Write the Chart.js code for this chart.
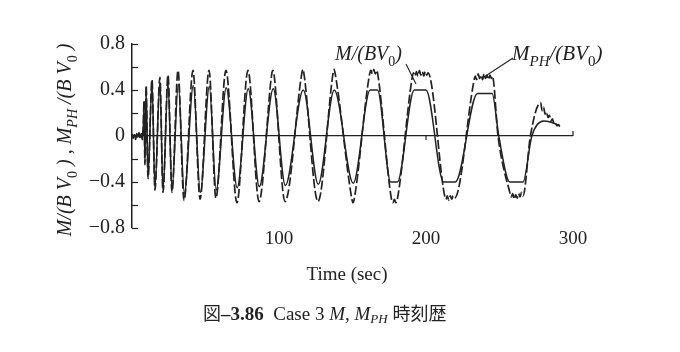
<!DOCTYPE html>
<html>
<head>
<meta charset="utf-8">
<script src="https://cdn.jsdelivr.net/npm/chart.js@4"></script>
<style>
  body { margin: 0; background: #fff; }
  #wrap { position: relative; width: 680px; height: 352px; }
  #cap {
    position: absolute; left: 203px; top: 299px; color: #222; white-space: nowrap;
    font: 19px "Liberation Serif", "Noto Sans CJK JP", serif;
  }
  #cap sub { font-size: 13px; vertical-align: -3px; line-height: 0; }
  #cap .cjk { font-family: "Noto Sans CJK JP", sans-serif; font-size: 18px; }
</style>
</head>
<body>
<div id="wrap">
  <canvas id="chart" width="680" height="352"></canvas>
  <div id="cap"><span class="cjk">図</span><b>–3.86</b>&nbsp; Case 3 <i>M</i>, <i>M</i><sub><i>PH</i></sub> <span class="cjk">時刻歴</span></div>
</div>
<script>
// M/(BV0): measured, dashed, noisy
const timeM = [
  0, 0.8, 1.6, 2.4, 3.2, 4.0, 4.8, 5.6, 6.4, 7.0, 7.6,
  8.2, 8.8, 9.6, 10.9, 13.6, 15.6, 19.0, 21.1, 24.5, 27.2,
  31.3, 35.4, 41.5, 46.3, 52.4, 57.1, 63.9, 71.4, 78.9, 86.4,
  95.2, 95.9, 96.6, 104.1, 115.6, 116.3, 117.0, 126.5, 136.7, 137.4, 138.1,
  149.6, 150.3, 151.0,
  161.5, 162.5, 163.5, 164.5, 165.5, 166.5, 167.3,
  176.5, 177.5, 178.5, 179.5, 180.5,
  190.5, 191.5, 192.5, 193.5, 194.5, 195.5, 196.5, 197.5, 198.5, 199.5, 200.5, 201.3,
  212.5, 213.5, 214.5, 215.5, 216.5, 217.5, 218.5, 219.5,
  232.5, 233.5, 234.5, 235.5, 236.5, 237.5, 238.5, 239.5, 240.5, 241.5, 242.5, 243.5, 244.5, 245.2,
  249.0,
  257, 258, 259, 260, 261, 262, 263, 264, 265, 266,
  271, 278, 279, 280, 281, 282, 283, 284, 285, 286, 287, 288, 289, 290, 291
];
const valM = [
  0.02, -0.02, 0.01, -0.03, 0.02, -0.01, 0.03, -0.02, 0.02, -0.03, 0.06,
  0.31, -0.25, 0.44, -0.37, 0.49, -0.47, 0.51, -0.49, 0.53, -0.49,
  0.57, -0.56, 0.57, -0.55, 0.57, -0.54, 0.57, -0.58, 0.57, -0.57,
  0.55, 0.57, 0.54, -0.57, 0.55, 0.58, 0.54, -0.57, 0.54, 0.58, 0.55,
  -0.55, -0.58, -0.56,
  0.53, 0.57, 0.54, 0.58, 0.54, 0.57, 0.53,
  -0.55, -0.58, -0.55, -0.58, -0.55,
  0.50, 0.55, 0.52, 0.56, 0.52, 0.57, 0.53, 0.56, 0.52, 0.56, 0.53, 0.55,
  -0.51, -0.55, -0.52, -0.56, -0.52, -0.55, -0.52, -0.54,
  0.47, 0.52, 0.49, 0.54, 0.50, 0.53, 0.49, 0.54, 0.50, 0.53, 0.49, 0.53, 0.50, 0.52,
  0.0,
  -0.49, -0.53, -0.50, -0.55, -0.51, -0.54, -0.50, -0.53, -0.49, -0.52,
  0.0, 0.29, 0.22, 0.25, 0.19, 0.21, 0.16, 0.18, 0.13, 0.15, 0.11, 0.12, 0.09, 0.10, 0.08
];

// MPH/(BV0): solid, smoother
const timePH = [
  0, 0.8, 1.6, 2.4, 3.2, 4.0, 4.8, 5.6, 6.4, 7.0, 7.6,
  8.2, 8.8, 9.6, 10.9, 13.6, 15.6, 19.0, 21.1, 24.5, 27.2,
  31.5, 35.6, 41.7, 46.5, 52.6, 57.3, 64.1, 71.6, 79.1, 86.6,
  96.1, 104.3, 116.5, 126.7, 137.6, 150.5,
  162.0, 167.0, 176.0, 180.5, 192.0, 200.0, 212.0, 220.0,
  235.0, 245.0, 249.5, 257.0, 266.0, 272.0, 280.0, 285.0, 291.0
];
const valPH = [
  0.01, -0.01, 0.01, -0.02, 0.01, -0.01, 0.02, -0.01, 0.01, -0.02, 0.04,
  0.26, -0.22, 0.40, -0.35, 0.46, -0.45, 0.47, -0.47, 0.47, -0.47,
  0.45, -0.50, 0.44, -0.49, 0.43, -0.47, 0.42, -0.45, 0.41, -0.44,
  0.41, -0.43, 0.40, -0.42, 0.40, -0.41,
  0.40, 0.40, -0.40, -0.40, 0.40, 0.40, -0.40, -0.40,
  0.37, 0.37, 0.0, -0.40, -0.40, 0.0, 0.13, 0.12, 0.09
];

const yTicksShown = [-0.8, -0.4, 0, 0.4, 0.8];
const xTicksShown = [100, 200, 300];

const ink = "#222";
const serif = "'Liberation Serif', 'Times New Roman', serif";

const fontOf = (p, size) =>
  `${p[1] || ""} ${p[2] ? Math.round(size * 0.7) : size}px ${serif}`;

function richText(ctx, parts, x, y, size, align) {
  let w = 0;
  parts.forEach(p => { ctx.font = fontOf(p, size); w += ctx.measureText(p[0]).width; });
  let cx = align === "center" ? x - w / 2 : x;
  ctx.textAlign = "left";
  ctx.textBaseline = "alphabetic";
  parts.forEach(p => {
    ctx.font = fontOf(p, size);
    ctx.fillText(p[0], cx, y + (p[2] ? size * 0.28 : 0));
    cx += ctx.measureText(p[0]).width;
  });
}

const extras = {
  id: "extras",
  afterDraw(chart) {
    const { ctx, chartArea: a, scales: { x, y } } = chart;
    ctx.save();
    ctx.strokeStyle = ink;
    ctx.fillStyle = ink;
    ctx.lineWidth = 1.2;
    // inward ticks on the y axis
    for (let v = -0.8; v <= 0.81; v += 0.2) {
      const py = Math.round(y.getPixelForValue(v)) + 0.5;
      ctx.beginPath();
      ctx.moveTo(a.left, py);
      ctx.lineTo(a.left + 6, py);
      ctx.stroke();
    }
    // small ticks on the zero line
    const y0 = y.getPixelForValue(0);
    [[100, 4], [200, 4], [300, -5]].forEach(([v, len]) => {
      const px = x.getPixelForValue(v);
      ctx.beginPath();
      ctx.moveTo(px, y0);
      ctx.lineTo(px, y0 + len);
      ctx.stroke();
    });

    // y axis title
    ctx.save();
    ctx.translate(71, 140);
    ctx.rotate(-Math.PI / 2);
    richText(ctx, [
      ["M/(B V", "italic"], ["0", "", true], [" ) , ", "italic"],
      ["M", "italic"], ["PH", "italic", true], [" /(B V", "italic"], ["0", "", true], [" )", "italic"]
    ], 0, 0, 20, "center");
    ctx.restore();

    // x axis title
    ctx.font = `19px ${serif}`;
    ctx.textAlign = "center";
    ctx.textBaseline = "alphabetic";
    ctx.fillText("Time (sec)", 347, 280);

    // curve labels with leader lines
    richText(ctx, [["M/(BV", "italic"], ["0", "", true], [")", "italic"]], 335, 60, 20, "left");
    richText(ctx, [["M", "italic"], ["PH", "italic", true], ["/(BV", "italic"], ["0", "", true], [")", "italic"]], 512, 60, 21, "left");
    ctx.lineWidth = 1.1;
    ctx.beginPath();
    ctx.moveTo(406, 64); ctx.lineTo(416, 84);
    ctx.moveTo(513, 58); ctx.lineTo(484, 77);
    ctx.stroke();
    ctx.restore();
  }
};

new Chart(document.getElementById("chart"), {
  type: "line",
  data: {
    datasets: [
      {
        label: "M/(BV0)",
        data: timeM.map((t, i) => ({ x: t, y: valM[i] })),
        borderColor: ink,
        borderWidth: 1.7,
        borderDash: [9, 3],
        pointRadius: 0,
        cubicInterpolationMode: "monotone",
        fill: false,
      },
      {
        label: "MPH/(BV0)",
        data: timePH.map((t, i) => ({ x: t, y: valPH[i] })),
        borderColor: ink,
        borderWidth: 1.5,
        pointRadius: 0,
        cubicInterpolationMode: "monotone",
        fill: false,
      },
    ],
  },
  options: {
    responsive: false,
    animation: false,
    devicePixelRatio: 1,
    layout: { padding: { top: 44, right: 107, bottom: 0, left: 0 } },
    plugins: { legend: { display: false }, tooltip: { enabled: false } },
    scales: {
      x: {
        type: "linear",
        min: 0,
        max: 300,
        border: { display: false },
        grid: { display: false, drawTicks: false },
        ticks: {
          stepSize: 100,
          padding: 0,
          maxRotation: 0,
          color: ink,
          font: { family: serif, size: 19 },
          callback: v => (xTicksShown.includes(v) ? String(v) : ""),
        },
        afterFit: s => { s.height = 124; },
      },
      y: {
        min: -0.8,
        max: 0.8,
        border: { display: true, color: ink, width: 1.5 },
        grid: {
          drawTicks: false,
          lineWidth: 1.2,
          color: c => (c.tick && Math.abs(c.tick.value) < 1e-9 ? ink : "rgba(0,0,0,0)"),
        },
        ticks: {
          stepSize: 0.2,
          autoSkip: false,
          padding: 7,
          color: ink,
          font: { family: serif, size: 20 },
          callback: v => {
            const r = Math.round(v * 10) / 10;
            if (!yTicksShown.some(s => Math.abs(s - r) < 1e-9)) return "";
            if (r === 0) return "0";
            return (r < 0 ? "\u2212" : "") + Math.abs(r).toFixed(1);
          },
        },
        afterFit: s => { s.width = 132; },
      },
    },
  },
  plugins: [extras],
});
</script>
</body>
</html>
